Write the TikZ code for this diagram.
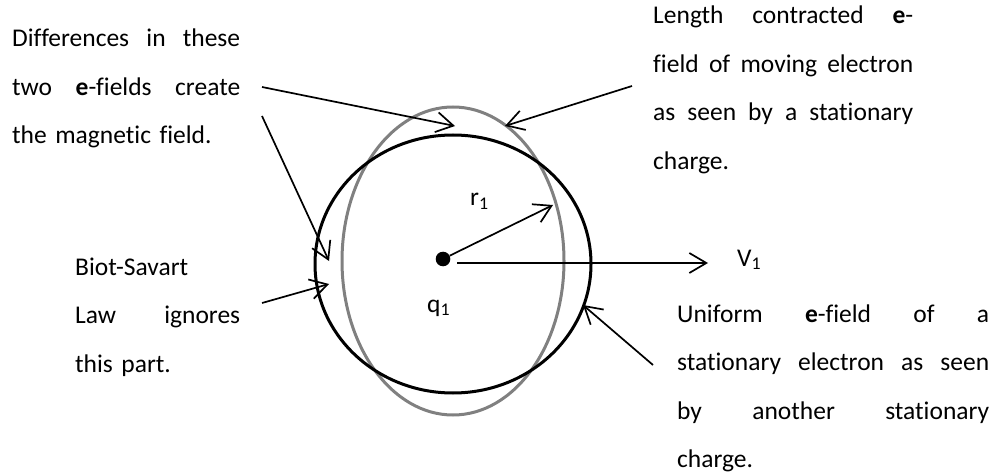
\documentclass[tikz,border=0pt]{standalone}
\usepackage{fontspec}
\setmainfont{Carlito}[Ligatures=NoCommon]
\usepackage{xcolor}
\definecolor{fieldgray}{RGB}{128,128,128}
\usetikzlibrary{arrows.meta}
% one justified line of a note: width, text
\newcommand\jl[2]{\leavevmode\hbox to #1{\spaceskip=0.22em plus 1fil\relax #2}}

\begin{document}
\begin{tikzpicture}[
  x=1pt, y=-1pt,
  note/.style={font=\fontsize{25.5}{48.5}\selectfont, anchor=base west, inner sep=0pt, align=left},
  lbl/.style={font=\fontsize{25.5}{30}\selectfont, anchor=base west, inner sep=0pt},
  pointer/.style={-{Straight Barb[length=17pt, width=20pt]}, line width=1.7pt},
  field/.style={line width=3pt}
]
\useasboundingbox (0,0) rectangle (997,476);

% the two fields
\draw[field, fieldgray] (453,261) ellipse [x radius=111, y radius=154];
\draw[field] (453,264) ellipse [x radius=138, y radius=129];
\node[circle, fill, inner sep=0pt, minimum size=14.6pt] (q) at (443,259) {};

% labels
\node[lbl] (r1) at (470,206) {r\textsubscript{1}};
\node[lbl] (q1) at (427,312) {q\textsubscript{1}};
\node[lbl] (v1) at (737,266) {V\textsubscript{1}};

% notes
\node[note, text width=228pt] (diff) at (12,47)
  {\jl{228pt}{Differences in these}\\ \jl{228pt}{two \textbf{e}-fields create}\\ the magnetic field.};
\node[note, text width=260pt] (contract) at (653,24)
  {\jl{260pt}{Length contracted \textbf{e}-}\\ \jl{260pt}{field of moving electron}\\ \jl{260pt}{as seen by a stationary}\\ charge.};
\node[note, text width=165pt] (biot) at (75,275)
  {Biot-Savart\\ \jl{165pt}{Law ignores}\\ this part.};
\node[note, text width=312pt] (uniform) at (677,322)
  {\jl{312pt}{Uniform \textbf{e}-field of a}\\ \jl{312pt}{stationary electron as seen}\\ \jl{312pt}{by another stationary}\\ charge.};

% arrow ends
\coordinate (difftop) at (262,87);
\coordinate (diffleft) at (262,116);
\coordinate (contractout) at (632,86);
\coordinate (biotout) at (262,303);
\coordinate (uniformout) at (653,365);
\coordinate (vstart) at (457,263);
\coordinate (toptip) at (455,126);
\coordinate (lefttip) at (329,261);
\coordinate (graytip) at (505,126);
\coordinate (biottip) at (329,284);
\coordinate (blacktip) at (583,305);
\coordinate (rtip) at (553,205);
\coordinate (vtip) at (708,263);

\draw[pointer] (difftop) -- (toptip);
\draw[pointer] (diffleft) -- (lefttip);
\draw[pointer] (contractout) -- (graytip);
\draw[pointer] (biotout) -- (biottip);
\draw[pointer] (uniformout) -- (blacktip);
\draw[pointer] (q) -- (rtip);
\draw[pointer] (vstart) -- (vtip);
\end{tikzpicture}
\end{document}
